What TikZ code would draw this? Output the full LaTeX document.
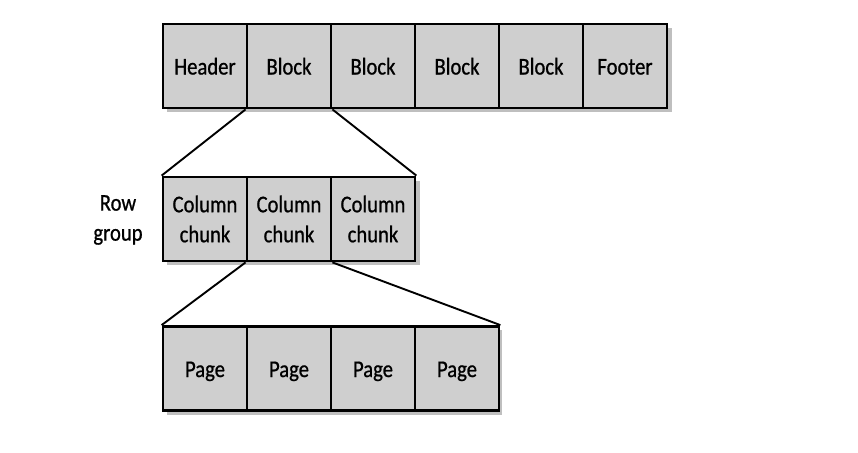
\documentclass[tikz,border=0pt]{standalone}
\usepackage{fontspec}
\setmainfont[FakeStretch=0.86,FakeBold=0.8]{Carlito}
\definecolor{cellgray}{HTML}{CFCFCF}
\begin{document}
\begin{tikzpicture}[x=1pt,y=-1pt,
  cell/.style={draw=black, line width=2.8pt, fill=cellgray, minimum width=84pt, minimum height=84pt, inner sep=0pt, font=\fontsize{24}{30}\selectfont, align=center},
  one/.style={text height=20pt, text depth=3pt},
  shadowbox/.style={fill=black, opacity=0.25},
  conn/.style={draw=black, line width=1.9pt},
  lbl/.style={font=\fontsize{24}{30}\selectfont, align=center}]
\useasboundingbox (0,0) rectangle (858,452);
% shadows
\fill[shadowbox] (167,28) rectangle (672,112);
\fill[shadowbox] (167,181) rectangle (420,265);
\fill[shadowbox] (167,330) rectangle (502,415);
% top row
\node[cell,one] (h) at (205,66) {Header};
\node[cell,one] (b1) at (289,66) {Block};
\node[cell,one] (b2) at (373,66) {Block};
\node[cell,one] (b3) at (457,66) {Block};
\node[cell,one] (b4) at (541,66) {Block};
\node[cell,one] (f) at (625,66) {Footer};
% middle row
\node[cell] (c1) at (205,219) {Column\\chunk};
\node[cell] (c2) at (289,219) {Column\\chunk};
\node[cell] (c3) at (373,219) {Column\\chunk};
\node[lbl] (rg) at (118,220) {Row\\group};
% bottom row
\node[cell,one] (p1) at (205,368.5) {Page};
\node[cell,one] (p2) at (289,368.5) {Page};
\node[cell,one] (p3) at (373,368.5) {Page};
\node[cell,one] (p4) at (457,368.5) {Page};
% connectors
\draw[conn] (b1.south west) -- (c1.north west);
\draw[conn] (b1.south east) -- (c3.north east);
\draw[conn] (c2.south west) -- (p1.north west);
\draw[conn] (c2.south east) -- (p4.north east);
\end{tikzpicture}
\end{document}
